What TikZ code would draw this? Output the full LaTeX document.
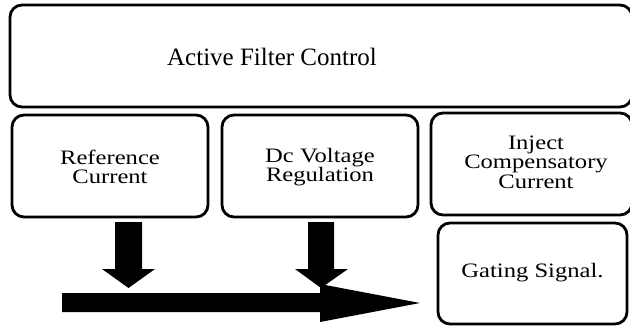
\documentclass[tikz,border=0pt]{standalone}
\usepackage{fontspec}
\setmainfont{Liberation Serif}
\newfontfamily\widefont[FakeStretch=1.2]{Liberation Serif}
\begin{document}
\begin{tikzpicture}[x=1pt,y=-1pt,
  blk/.style={draw=black,line width=2.8pt,rounded corners=12pt},
  boxtext/.style={align=center,font=\widefont\fontsize{20.5}{19.5}\selectfont,inner sep=0pt},
  fat/.style={fill=black,draw=none}]
\useasboundingbox (0,0) rectangle (630,327);
\clip (0,0) rectangle (630,327);
% boxes
\draw[blk] (10,5) rectangle (632,107);
\draw[blk] (12,115) rectangle (208,217);
\draw[blk] (222,115) rectangle (418,217);
\draw[blk] (431,113) rectangle (632,215);
\draw[blk] (438,223) rectangle (627,324);
% texts
\node[inner sep=0pt,font=\fontsize{25}{25}\selectfont] (afc) at (272,57) {Active Filter Control};
\node[boxtext] (ref) at (110,167) {Reference\\Current};
\node[boxtext] (dcv) at (320,167) {Dc Voltage\\Regulation};
\node[boxtext] (inj) at (536,162) {Inject\\Compensatory\\Current};
\node[boxtext] (gat) at (532.5,273) {Gating Signal.};
% block arrows
\coordinate (a1) at (128.5,222);
\coordinate (a2) at (321,222);
\fill[fat] (a1) ++(-13.5,0) -- ++(27,0) -- ++(0,47) -- ++(13,0) -- (128.5,288) -- (102,269) -- (115,269) -- cycle;
\fill[fat] (a2) ++(-13,0) -- ++(26,0) -- ++(0,47) -- ++(14,0) -- (321,288) -- (295,269) -- (308,269) -- cycle;
\fill[fat] (62,293) -- (320,293) -- (320,284) -- (420,303) -- (320,322) -- (320,312) -- (62,312) -- cycle;
\end{tikzpicture}
\end{document}
